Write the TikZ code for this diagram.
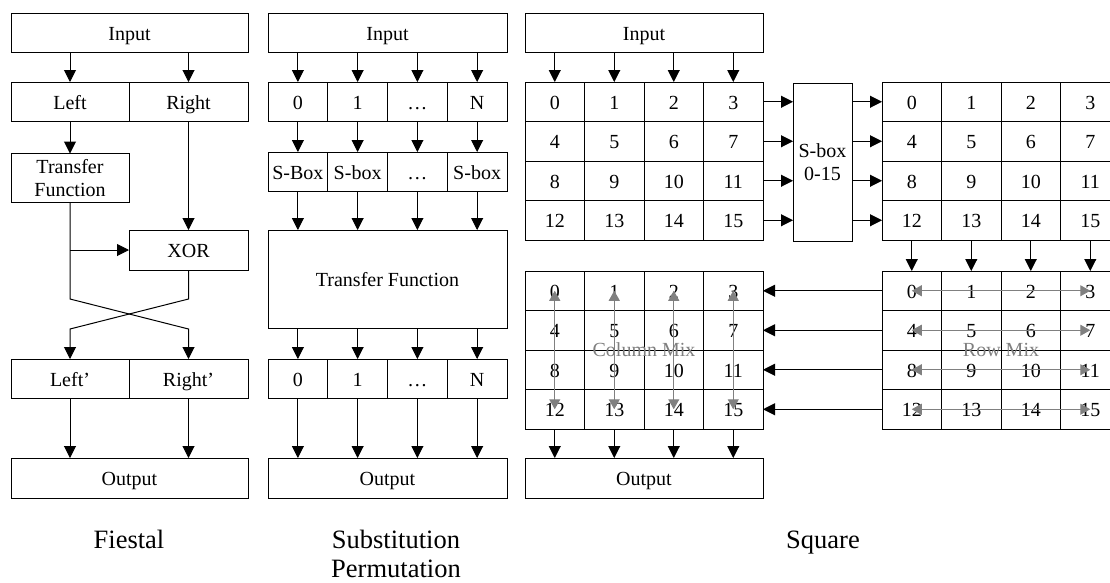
\documentclass[tikz,border=0pt]{standalone}
\usepackage{fontspec}
\setmainfont{Liberation Serif}
\usetikzlibrary{arrows.meta}
\definecolor{mixgray}{RGB}{128,128,128}
\begin{document}
\begin{tikzpicture}[x=1pt,y=-1pt,
  mbox/.style={draw,line width=1pt,inner sep=0pt,outer sep=0pt,font=\fontsize{20}{23}\selectfont,align=center},
  box/.style={mbox,text height=15pt,text depth=0pt},
  cell/.style={box,minimum width=59.5pt,minimum height=39.5pt},
  arr/.style={-{Triangle[length=12pt,width=12pt]},line width=1pt},
  garr/.style={{Triangle[length=10pt,width=11pt]}-{Triangle[length=10pt,width=11pt]},line width=1pt,color=mixgray},
  caption/.style={font=\fontsize{26.5}{29}\selectfont,align=center,inner sep=0pt,anchor=base},
  mixlabel/.style={font=\fontsize{20}{23}\selectfont,text=mixgray,inner sep=0pt}]
\useasboundingbox (0,0) rectangle (1110,582);

% ---------------- Fiestal ----------------
\node[box,minimum width=237pt,minimum height=39pt] (fin) at (129.5,32.5) {Input};
\node[box,minimum width=118pt,minimum height=39pt] (fl) at (70,101.5) {Left};
\node[box,minimum width=119pt,minimum height=39pt] (fr) at (188.5,101.5) {Right};
\node[mbox,minimum width=118pt,minimum height=49pt] (ftf) at (70,178) {Transfer\\Function};
\node[box,minimum width=119pt,minimum height=40pt] (fxor) at (188.5,250) {XOR};
\node[box,minimum width=118pt,minimum height=39pt] (fl2) at (70,378.5) {Left’};
\node[box,minimum width=119pt,minimum height=39pt] (fr2) at (188.5,378.5) {Right’};
\node[box,minimum width=237pt,minimum height=40pt] (fout) at (129.5,478) {Output};
\coordinate (xl1) at (70,299);
\coordinate (xr2) at (188.5,329);
\coordinate (xr1) at (188.5,299);
\coordinate (xl2) at (70,329);
\draw[arr] (fin.south -| fl) -- (fl.north);
\draw[arr] (fin.south -| fr) -- (fr.north);
\draw[arr] (fl.south) -- (ftf.north);
\draw[arr] (fr.south) -- (fxor.north);
\draw[arr] (ftf.south |- fxor.west) -- (fxor.west);
\draw[arr] (ftf.south) -- (xl1) -- (xr2) -- (fr2.north);
\draw[arr] (fxor.south) -- (xr1) -- (xl2) -- (fl2.north);
\draw[arr] (fl2.south) -- (fl2.south |- fout.north);
\draw[arr] (fr2.south) -- (fr2.south |- fout.north);
\node[caption] (fcap) at (129,548) {Fiestal};

% ---------------- Substitution Permutation ----------------
\node[box,minimum width=239pt,minimum height=39pt] (spin) at (387.5,32.5) {Input};
\node[box,minimum width=239pt,minimum height=98pt] (sptf) at (387.5,279) {Transfer Function};
\node[box,minimum width=239pt,minimum height=40pt] (spout) at (387.5,478) {Output};
\foreach \t [count=\k from 0] in {0,1,…,N}{
  \node[box,minimum width=59.75pt,minimum height=39pt] (sa\k) at ({268+59.75*(\k+0.5)},101.5) {\t};
  \node[box,minimum width=59.75pt,minimum height=39pt] (sc\k) at ({268+59.75*(\k+0.5)},378.5) {\t};
}
\foreach \t [count=\k from 0] in {S-Box,S-box,…,S-box}{
  \node[box,minimum width=59.75pt,minimum height=39pt] (sb\k) at ({268+59.75*(\k+0.5)},171.5) {\t};
}
\foreach \k in {0,...,3}{
  \draw[arr] (spin.south -| sa\k) -- (sa\k.north);
  \draw[arr] (sa\k.south) -- (sb\k.north);
  \draw[arr] (sb\k.south) -- (sb\k.south |- sptf.north);
  \draw[arr] (sptf.south -| sc\k) -- (sc\k.north);
  \draw[arr] (sc\k.south) -- (sc\k.south |- spout.north);
}
\node[caption] (spcap) at (396,577) {Substitution\\Permutation};

% ---------------- Square ----------------
\node[box,minimum width=238pt,minimum height=39pt] (qin) at (644,32.5) {Input};
\node[mbox,minimum width=59pt,minimum height=158pt] (sbox) at (822.5,162) {S-box\\0-15};
\node[box,minimum width=238pt,minimum height=40pt] (qout) at (644,478) {Output};
\foreach \i in {0,...,15}{
  \pgfmathtruncatemacro\r{\i/4}
  \pgfmathtruncatemacro\c{mod(\i,4)}
  \node[cell] (a\i) at ({525+59.5*(\c+0.5)},{82+39.5*(\r+0.5)}) {\i};
  \node[cell] (b\i) at ({882+59.5*(\c+0.5)},{82+39.5*(\r+0.5)}) {\i};
  \node[cell] (c\i) at ({882+59.5*(\c+0.5)},{271+39.5*(\r+0.5)}) {\i};
  \node[cell] (d\i) at ({525+59.5*(\c+0.5)},{271+39.5*(\r+0.5)}) {\i};
}
\foreach \c in {0,...,3}{
  \pgfmathtruncatemacro\b{12+\c}
  \draw[arr] (qin.south -| a\c) -- (a\c.north);
  \draw[arr] (b\b.south) -- (c\c.north);
  \draw[arr] (d\b.south) -- (d\b.south |- qout.north);
  \draw[garr] (d\c.center) -- (d\b.center);
}
\foreach \r in {0,4,8,12}{
  \pgfmathtruncatemacro\e{\r+3}
  \draw[arr] (a\e.east) -- (a\e.east -| sbox.west);
  \draw[arr] (b\r.west -| sbox.east) -- (b\r.west);
  \draw[arr] (c\r.west) -- (d\e.east);
  \draw[garr] (c\r.center) -- (c\e.center);
}
\node[mixlabel] (cmix) at (644,350) {Column Mix};
\node[mixlabel] (rmix) at (1001,350) {Row Mix};
\node[caption] (qcap) at (823,548) {Square};
\end{tikzpicture}
\end{document}
